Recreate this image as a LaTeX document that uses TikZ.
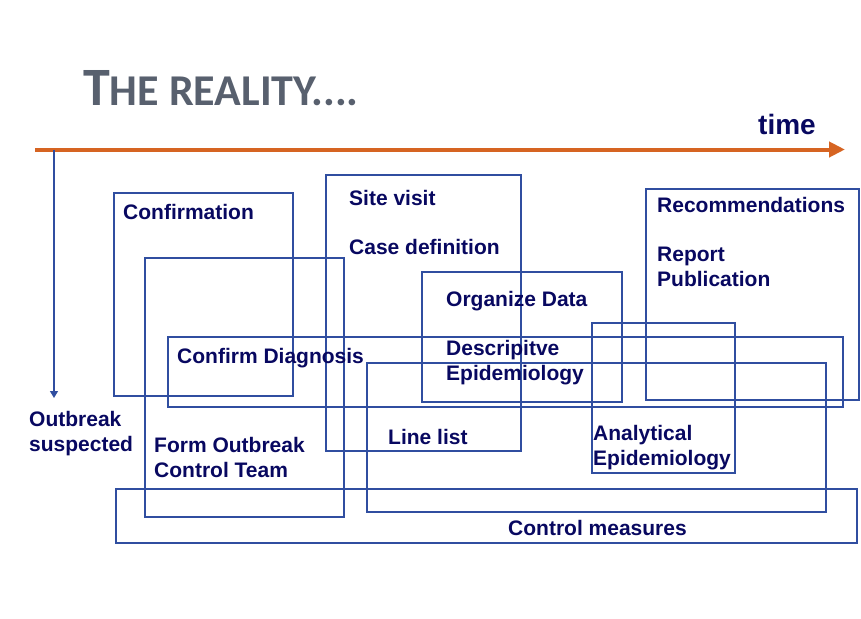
\documentclass[tikz,border=0pt]{standalone}
\usepackage{fontspec}
\setmainfont{Liberation Sans}
\newfontfamily\titlefont{Carlito}
\usepackage{tikz}
\usetikzlibrary{arrows.meta}
\definecolor{framblue}{RGB}{48,78,160}
\definecolor{textnavy}{RGB}{8,8,96}
\definecolor{timeorange}{RGB}{214,100,34}
\definecolor{titlegray}{RGB}{88,96,110}
\tikzstyle{frame}=[draw=framblue, line width=1.2pt]
\tikzstyle{phase}=[anchor=base west, inner sep=0pt, align=left, text=textnavy,
        font=\fontsize{21}{25}\selectfont\bfseries]
\begin{document}
\begin{tikzpicture}[x=1pt, y=-1pt]
\useasboundingbox (0,0) rectangle (861,618);
% title
\node [anchor=base west, inner sep=0pt, text=titlegray] (title) at (83,105)
  {\titlefont\bfseries\fontsize{54}{54}\selectfont T\fontsize{44}{44}\selectfont HE REALITY....};
% time axis
\coordinate (tstart) at (35,149.5);
\coordinate (tend) at (845,149.5);
\draw [timeorange, line width=4pt, -{Triangle[length=16pt,width=15pt]}] (tstart) -- (tend);
\node [anchor=base west, inner sep=0pt, text=textnavy, font=\fontsize{28}{28}\selectfont\bfseries] (time) at (758,134) {time};
% phase frames
\draw [frame] (114,193) rectangle (293,396);   % confirmation
\draw [frame] (145,258) rectangle (344,517);   % outbreak team
\draw [frame] (168,337) rectangle (843,407);   % diagnosis
\draw [frame] (326,175) rectangle (521,451);   % site visit
\draw [frame] (367,363) rectangle (826,512);   % line list
\draw [frame] (422,272) rectangle (622,402);   % organize data
\draw [frame] (592,323) rectangle (735,473);   % analytical
\draw [frame] (646,189) rectangle (859,400);   % recommendations
\draw [frame] (116,489) rectangle (857,543);   % control measures
% phase texts (two-line ones sit on their last line)
\node [phase] (confirmation) at (123,219) {Confirmation};
\node [phase] (sitevisit) at (349,205) {Site visit};
\node [phase] (casedef) at (349,254) {Case definition};
\node [phase] (organize) at (446,306) {Organize Data};
\node [phase] (descriptive) at (446,380) {Descripitve\\Epidemiology};
\node [phase] (diagnosis) at (177,363) {Confirm Diagnosis};
\node [phase] (recommend) at (657,212) {Recommendations};
\node [phase] (report) at (657,286) {Report\\Publication};
\node [phase] (linelist) at (388,444) {Line list};
\node [phase] (analytical) at (593,465) {Analytical\\Epidemiology};
\node [phase] (outbreak) at (29,451) {Outbreak\\suspected};
\node [phase] (team) at (154,477) {Form Outbreak\\Control Team};
\node [phase] (control) at (508,535) {Control measures};
% suspected marker
\coordinate (ostart) at (54,149.5);
\coordinate (oend) at (54,398);
\draw [framblue, line width=1.3pt, -{Triangle[length=7pt,width=8pt]}] (ostart) -- (oend);
\end{tikzpicture}
\end{document}
